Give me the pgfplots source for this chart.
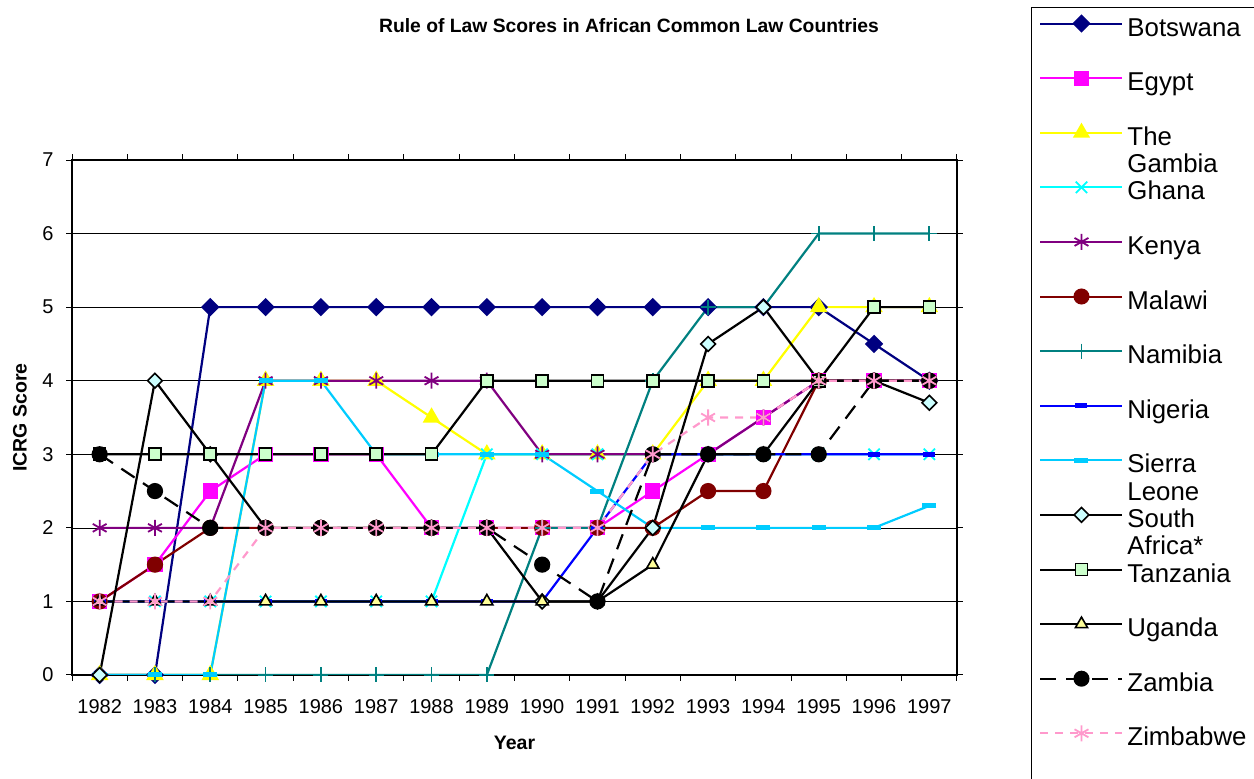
\documentclass[border=0pt]{standalone}
\usepackage{pgfplots}
\pgfplotsset{compat=1.18}
\usepackage{fontspec}
\setmainfont{Liberation Sans}
\definecolor{cNavy}{HTML}{000080}
\definecolor{cMag}{HTML}{FF00FF}
\definecolor{cYel}{HTML}{FFFF00}
\definecolor{cCyan}{HTML}{00FFFF}
\definecolor{cPurp}{HTML}{800080}
\definecolor{cMar}{HTML}{800000}
\definecolor{cTeal}{HTML}{008080}
\definecolor{cBlue}{HTML}{0000FF}
\definecolor{cSky}{HTML}{00CCFF}
\definecolor{cSA}{HTML}{CCFFFF}
\definecolor{cTz}{HTML}{CCFFCC}
\definecolor{cUg}{HTML}{FFFF99}
\definecolor{cPink}{HTML}{FF99CC}
\newcommand\lstrut{\rule[-8pt]{0pt}{34.5pt}}
\newcommand\ltwo[2]{\lstrut\raisebox{0pt}[0pt][0pt]{\vtop{\hbox{#1}\hbox{#2}}}}
\begin{document}
\begin{tikzpicture}
\useasboundingbox (0,0) rectangle (1254pt,779pt);
\node[font=\bfseries\fontsize{19.3}{22}\selectfont] at (629pt,753pt) {Rule of Law Scores in African Common Law Countries};
\begin{axis}[
  at={(72pt,104pt)}, anchor=south west,
  scale only axis, width=885pt, height=515pt,
  xmin=1981.5, xmax=1997.5, ymin=0, ymax=7,
  xtick={1982,...,1997},
  minor xtick={1981.5,1982.5,...,1997.5},
  ytick={0,...,7},
  tick align=outside,
  major tick length=6pt, minor tick length=6pt,
  major x tick style={draw=none},
  minor x tick style={black, line width=1pt},
  y tick style={black, line width=1pt},
  ymajorgrids, grid style={black, line width=0.6pt},
  axis line style={black, line width=1.6pt},
  /pgf/number format/assume math mode=true,
  /pgf/number format/1000 sep={},
  ticklabel style={font=\fontsize{20}{24}\selectfont},
  xticklabel style={yshift=-15pt},
  yticklabel style={xshift=-9pt},
  xlabel={Year}, ylabel={ICRG Score},
  every axis x label/.style={at={(axis description cs:0.5,-0.132)}, anchor=center, font=\bfseries\fontsize{19.5}{22}\selectfont},
  every axis y label/.style={at={(axis description cs:-0.0589,0.5)}, rotate=90, anchor=center, font=\bfseries\fontsize{19.5}{22}\selectfont},
  legend image code/.code={\draw[mark repeat=2,mark phase=2,line width=2pt,#1] plot coordinates {(0pt,0pt) (41pt,0pt) (82pt,0pt)};},
  legend cell align=left,
  legend style={at={(axis description cs:1.0836,1.2971)}, anchor=north west,
    draw=black, line width=1pt, font=\fontsize{25.8}{27.5}\selectfont,
    inner xsep=8pt, inner ysep=0pt, row sep=22.6pt, column sep=2pt},
  every axis plot/.append style={line width=2.2pt},
  dia/.style={mark=square*, mark options={solid, rotate=45, #1}},
]
\addplot[cNavy, dia={}, mark size=5.4pt] coordinates {
(1982,0)(1983,0)(1984,5)(1985,5)(1986,5)(1987,5)(1988,5)(1989,5)(1990,5)(1991,5)(1992,5)(1993,5)(1994,5)(1995,5)(1996,4.5)(1997,4)};
\addlegendentry{\lstrut Botswana}
\addplot[cMag, mark=square*, mark size=6.5pt, mark options={solid}] coordinates {
(1982,1)(1983,1.5)(1984,2.5)(1985,3)(1986,3)(1987,3)(1988,2)(1989,2)(1990,2)(1991,2)(1992,2.5)(1993,3)(1994,3.5)(1995,4)(1996,4)(1997,4)};
\addlegendentry{\lstrut Egypt}
\addplot[cYel, mark=triangle*, mark size=8pt, mark options={solid}] coordinates {
(1982,0)(1983,0)(1984,0)(1985,4)(1986,4)(1987,4)(1988,3.5)(1989,3)(1990,3)(1991,3)(1992,3)(1993,4)(1994,4)(1995,5)(1996,5)(1997,5)};
\addlegendentry{\ltwo{The}{Gambia}}
\addplot[cCyan, mark=x, mark size=8pt, mark options={solid, line width=1.8pt}] coordinates {
(1982,1)(1983,1)(1984,1)(1985,1)(1986,1)(1987,1)(1988,1)(1989,3)(1990,3)(1991,3)(1992,3)(1993,3)(1994,3)(1995,3)(1996,3)(1997,3)};
\addlegendentry{\lstrut Ghana}
\addplot[cPurp, mark=asterisk, mark size=8pt, mark options={solid, line width=1.8pt}] coordinates {
(1982,2)(1983,2)(1984,2)(1985,4)(1986,4)(1987,4)(1988,4)(1989,4)(1990,3)(1991,3)(1992,3)(1993,3)(1994,3.5)(1995,4)(1996,4)(1997,4)};
\addlegendentry{\lstrut Kenya}
\addplot[cMar, mark=*, mark size=7pt, mark options={solid}] coordinates {
(1982,1)(1983,1.5)(1984,2)(1985,2)(1986,2)(1987,2)(1988,2)(1989,2)(1990,2)(1991,2)(1992,2)(1993,2.5)(1994,2.5)(1995,4)(1996,4)(1997,4)};
\addlegendentry{\lstrut Malawi}
\addplot[cTeal, mark=+, mark size=7.5pt, mark options={solid, line width=1.8pt}] coordinates {
(1982,0)(1983,0)(1984,0)(1985,0)(1986,0)(1987,0)(1988,0)(1989,0)(1990,2)(1991,2)(1992,4)(1993,5)(1994,5)(1995,6)(1996,6)(1997,6)};
\addlegendentry{\lstrut Namibia}
\addplot[cBlue, mark=-, mark size=6pt, mark options={solid, line width=4.5pt}] coordinates {
(1982,1)(1983,1)(1984,1)(1985,1)(1986,1)(1987,1)(1988,1)(1989,1)(1990,1)(1991,2)(1992,3)(1993,3)(1994,3)(1995,3)(1996,3)(1997,3)};
\addlegendentry{\lstrut Nigeria}
\addplot[cSky, mark=-, mark size=7pt, mark options={solid, line width=5pt}] coordinates {
(1982,0)(1983,0)(1984,0)(1985,4)(1986,4)(1987,3)(1988,3)(1989,3)(1990,3)(1991,2.5)(1992,2)(1993,2)(1994,2)(1995,2)(1996,2)(1997,2.3)};
\addlegendentry{\ltwo{Sierra}{Leone}}
\addplot[black, dia={fill=cSA, line width=1.6pt}, mark size=5.2pt] coordinates {
(1982,0)(1983,4)(1984,3)(1985,2)(1986,2)(1987,2)(1988,2)(1989,2)(1990,1)(1991,1)(1992,2)(1993,4.5)(1994,5)(1995,4)(1996,4)(1997,3.7)};
\addlegendentry{\ltwo{South}{Africa*}}
\addplot[black, mark=square*, mark size=6pt, mark options={solid, fill=cTz, line width=1.6pt}] coordinates {
(1982,3)(1983,3)(1984,3)(1985,3)(1986,3)(1987,3)(1988,3)(1989,4)(1990,4)(1991,4)(1992,4)(1993,4)(1994,4)(1995,4)(1996,5)(1997,5)};
\addlegendentry{\lstrut Tanzania}
\addplot[black, mark=triangle*, mark size=7pt, mark options={solid, fill=cUg, line width=1.6pt}] coordinates {
(1982,1)(1983,1)(1984,1)(1985,1)(1986,1)(1987,1)(1988,1)(1989,1)(1990,1)(1991,1)(1992,1.5)(1993,3)(1994,3)(1995,4)(1996,4)(1997,4)};
\addlegendentry{\lstrut Uganda}
\addplot[black, dash pattern=on 16pt off 10pt, mark=*, mark size=7pt, mark options={solid}] coordinates {
(1982,3)(1983,2.5)(1984,2)(1985,2)(1986,2)(1987,2)(1988,2)(1989,2)(1990,1.5)(1991,1)(1992,3)(1993,3)(1994,3)(1995,3)(1996,4)(1997,4)};
\addlegendentry{\lstrut Zambia}
\addplot[cPink, dash pattern=on 8pt off 7pt, mark=asterisk, mark size=8pt, mark options={solid, line width=1.8pt}] coordinates {
(1982,1)(1983,1)(1984,1)(1985,2)(1986,2)(1987,2)(1988,2)(1989,2)(1990,2)(1991,2)(1992,3)(1993,3.5)(1994,3.5)(1995,4)(1996,4)(1997,4)};
\addlegendentry{\lstrut Zimbabwe}
\addlegendimage{empty legend}
\addlegendentry{\lstrut}
\end{axis}
\end{tikzpicture}
\end{document}
